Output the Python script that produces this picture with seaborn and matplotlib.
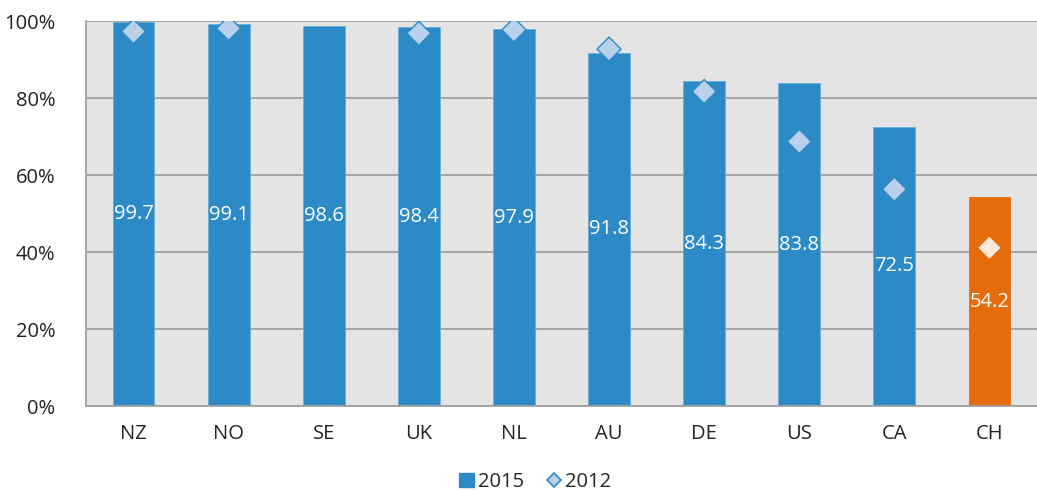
import numpy as np
import matplotlib
matplotlib.use("Agg")
import matplotlib.pyplot as plt
from matplotlib.lines import Line2D
from matplotlib.patches import Patch
import seaborn as sns

countries = ["NZ", "NO", "SE", "UK", "NL", "AU", "DE", "US", "CA", "CH"]
share_2015 = [99.7, 99.1, 98.6, 98.4, 97.9, 91.8, 84.3, 83.8, 72.5, 54.2]
share_2012 = [97.3, 98.1, np.nan, 96.8, 97.7, 92.7, 81.7, 68.7, 56.3, 41.1]
y_ticks = [0, 20, 40, 60, 80, 100]

BLUE = "#2C8AC6"
ORANGE = "#E46C0A"
DIAMOND_BLUE = "#B8D0EA"
DIAMOND_ORANGE = "#FCE8DA"
highlight = "CH"

bar_colors = [ORANGE if c == highlight else BLUE for c in countries]
diamond_face = [DIAMOND_ORANGE if c == highlight else DIAMOND_BLUE for c in countries]

sns.set_theme(style="white")
plt.rcParams["font.family"] = ["Open Sans", "DejaVu Sans"]
FS = 14.5

fig = plt.figure(figsize=(10.37, 4.91), dpi=100)
ax = fig.add_axes([0.0829, 0.1731, 0.9171, 0.7841])
ax.set_facecolor("#E4E4E4")

sns.barplot(x=countries, y=share_2015, hue=countries, palette=bar_colors,
            legend=False, width=0.44, ax=ax, zorder=2,
            edgecolor="#6AAEDC", linewidth=0.6, saturation=1)
# orange bar edge
ax.patches[-1].set_edgecolor(ORANGE)

pos = np.arange(len(countries))
vals12 = np.array(share_2012, dtype=float)
mask = ~np.isnan(vals12)
ax.scatter(pos[mask], vals12[mask], marker="D", s=150,
           c=np.array(diamond_face)[mask],
           edgecolors=np.array(bar_colors)[mask], linewidths=1.0, zorder=4)

for x, v in zip(pos, share_2015):
    ax.text(x, v / 2, f"{v:.1f}", ha="center", va="center",
            color="white", fontsize=FS, zorder=5)

ax.set_ylim(0, 100)
ax.set_xlim(-0.5, len(countries) - 0.5)
ax.set_yticks(y_ticks)
ax.set_yticklabels([f"{t}%" for t in y_ticks])
ax.yaxis.grid(True, color="#A0A0A0", linewidth=1.3, zorder=0)
ax.set_axisbelow(True)
ax.tick_params(axis="both", length=0, labelsize=FS, colors="#222222")
ax.tick_params(axis="x", pad=13)
ax.tick_params(axis="y", pad=22)
ax.set_xlabel("")
ax.set_ylabel("")

for side in ["top", "right"]:
    ax.spines[side].set_visible(False)
for side in ["left", "bottom"]:
    ax.spines[side].set_color("#A0A0A0")
    ax.spines[side].set_linewidth(1.3)

handles = [
    Patch(facecolor=BLUE, edgecolor=BLUE, label="2015"),
    Line2D([], [], marker="D", linestyle="none", markersize=7.5,
           markerfacecolor=DIAMOND_BLUE, markeredgecolor=BLUE,
           markeredgewidth=1.2, label="2012"),
]
fig.legend(handles=handles, loc="center", bbox_to_anchor=(535 / 1037, 1 - 482 / 491),
           ncol=2, frameon=False, fontsize=FS, handlelength=0.75,
           handleheight=0.75, handletextpad=0.2, columnspacing=1.1)

fig.savefig("out.png", dpi=100)
